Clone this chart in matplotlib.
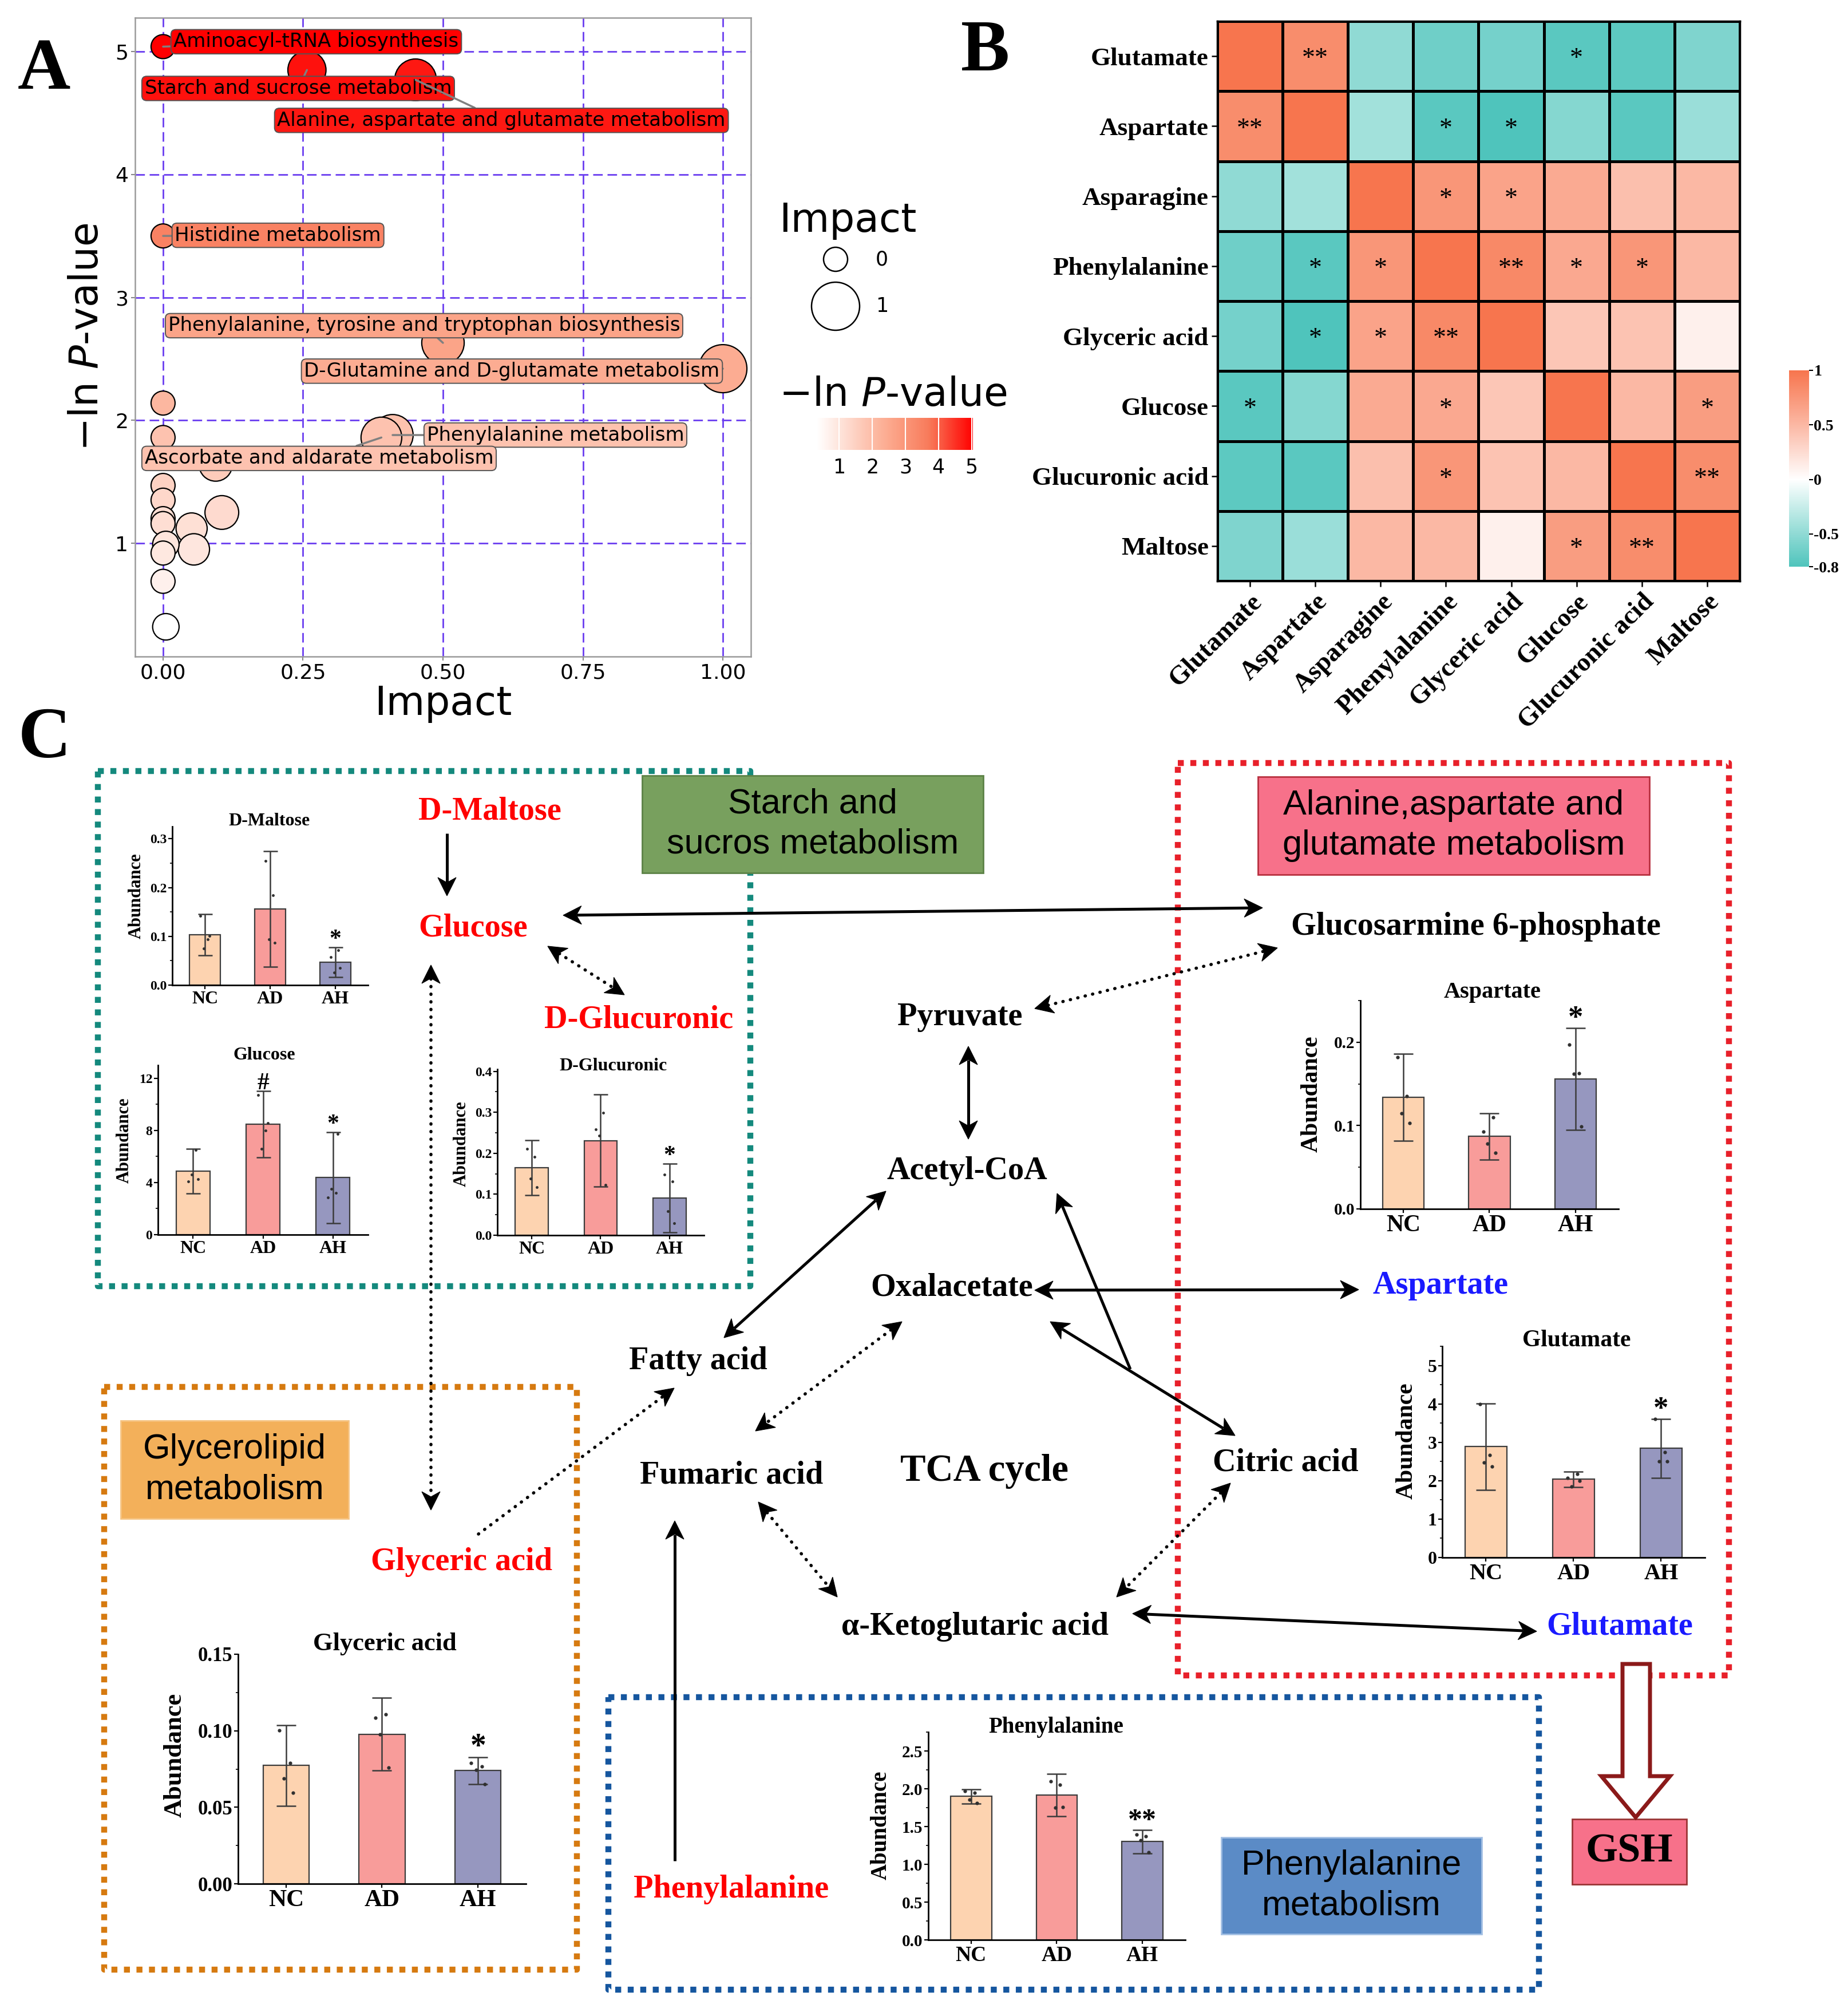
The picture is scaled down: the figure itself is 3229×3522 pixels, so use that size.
import numpy as np
import matplotlib
matplotlib.use("Agg")
import matplotlib.pyplot as plt
from matplotlib.colors import LinearSegmentedColormap, Normalize
from matplotlib.patches import Rectangle, Polygon
from matplotlib.ticker import AutoMinorLocator
from matplotlib.colorbar import ColorbarBase

plt.rcParams['font.family'] = ['DejaVu Sans']
plt.rcParams['mathtext.fontset'] = 'dejavusans'

W, H = 3230, 3522
SERIF = ['Liberation Serif', 'DejaVu Serif']
SANS = ['Liberation Sans', 'DejaVu Sans']

# ---------------- Panel A data ----------------
pathway_names = ["Aminoacyl-tRNA biosynthesis", "Starch and sucrose metabolism",
                 "Alanine, aspartate and glutamate metabolism", "Histidine metabolism",
                 "Phenylalanine, tyrosine and tryptophan biosynthesis",
                 "D-Glutamine and D-glutamate metabolism", "Phenylalanine metabolism",
                 "Ascorbate and aldarate metabolism",
                 "", "", "", "", "", "", "", "", "", "", "", "", "", ""]
pathway_impact = [0.0, 0.257, 0.451, 0.0, 0.50, 1.0, 0.41, 0.39,
                  0.0, 0.0, 0.094, 0.0, 0.0, 0.0, 0.0, 0.051, 0.105, 0.055, 0.005, 0.0, 0.0, 0.005]
pathway_lnp = [5.04, 4.85, 4.77, 3.50, 2.63, 2.42, 1.88, 1.86,
               2.14, 1.86, 1.64, 1.47, 1.35, 1.20, 1.16, 1.12, 1.25, 0.95, 0.99, 0.92, 0.69, 0.32]
impact_ticks = [0.0, 0.25, 0.5, 0.75, 1.0]
impact_ticklabels = ["0.00", "0.25", "0.50", "0.75", "1.00"]
lnp_ticks = [1, 2, 3, 4, 5]
label_xy = [(0.019, 5.08), (-0.033, 4.70), (0.204, 4.44), (0.021, 3.505),
            (0.009, 2.77), (0.252, 2.40), (0.471, 1.88), (-0.033, 1.69)]

# ---------------- Panel B data ----------------
met_names = ["Glutamate", "Aspartate", "Asparagine", "Phenylalanine",
             "Glyceric acid", "Glucose", "Glucuronic acid", "Maltose"]
corr = [[1.00, 0.82, -0.50, -0.65, -0.62, -0.75, -0.73, -0.58],
        [0.82, 1.00, -0.42, -0.75, -0.82, -0.55, -0.75, -0.45],
        [-0.50, -0.42, 1.00, 0.75, 0.65, 0.60, 0.45, 0.50],
        [-0.65, -0.75, 0.75, 1.00, 0.85, 0.62, 0.75, 0.50],
        [-0.62, -0.82, 0.65, 0.85, 1.00, 0.40, 0.42, 0.10],
        [-0.75, -0.55, 0.60, 0.62, 0.40, 1.00, 0.50, 0.70],
        [-0.73, -0.75, 0.45, 0.75, 0.42, 0.50, 1.00, 0.82],
        [-0.58, -0.45, 0.50, 0.50, 0.10, 0.70, 0.82, 1.00]]
corr_sig = [["", "**", "", "", "", "*", "", ""],
            ["**", "", "", "*", "*", "", "", ""],
            ["", "", "", "*", "*", "", "", ""],
            ["", "*", "*", "", "**", "*", "*", ""],
            ["", "*", "*", "**", "", "", "", ""],
            ["*", "", "", "*", "", "", "", "*"],
            ["", "", "", "*", "", "", "", "**"],
            ["", "", "", "", "", "*", "**", ""]]
corr_ticks = [1, 0.5, 0, -0.5, -0.8]
corr_ticklabels = ["1", "0.5", "0", "-0.5", "-0.8"]

# ---------------- Panel C bar data ----------------
groups = ["NC", "AD", "AH"]
group_colors = ["#FDD3B0", "#F89C9A", "#9697BF"]

maltose_mean = [0.103, 0.156, 0.047]
maltose_sd = [0.042, 0.119, 0.031]
maltose_pts = [[0.142, 0.094, 0.075, 0.101], [0.255, 0.184, 0.094, 0.087], [0.057, 0.071, 0.026, 0.035]]
maltose_marks = ["", "", "*"]
maltose_ticks = [0.0, 0.1, 0.2, 0.3]
maltose_ticklabels = ["0.0", "0.1", "0.2", "0.3"]

glucose_mean = [4.88, 8.47, 4.38]
glucose_sd = [1.70, 2.55, 3.48]
glucose_pts = [[4.09, 6.48, 4.62, 4.25], [10.7, 8.0, 6.6, 8.55], [2.84, 3.19, 3.5, 7.75]]
glucose_marks = ["", "#", "*"]
glucose_ticks = [0, 4, 8, 12]
glucose_ticklabels = ["0", "4", "8", "12"]

glucuronic_mean = [0.165, 0.231, 0.091]
glucuronic_sd = [0.067, 0.112, 0.084]
glucuronic_pts = [[0.211, 0.192, 0.138, 0.117], [0.259, 0.2985, 0.2436, 0.1226], [0.148, 0.131, 0.059, 0.030]]
glucuronic_marks = ["", "", "*"]
glucuronic_ticks = [0.0, 0.1, 0.2, 0.3, 0.4]
glucuronic_ticklabels = ["0.0", "0.1", "0.2", "0.3", "0.4"]

aspartate_mean = [0.134, 0.087, 0.156]
aspartate_sd = [0.052, 0.028, 0.061]
aspartate_pts = [[0.182, 0.135, 0.115, 0.103], [0.093, 0.110, 0.078, 0.067], [0.197, 0.163, 0.162, 0.099]]
aspartate_marks = ["", "", "*"]
aspartate_ticks = [0.0, 0.1, 0.2]
aspartate_ticklabels = ["0.0", "0.1", "0.2"]

glutamate_mean = [2.886, 2.04, 2.84]
glutamate_sd = [1.13, 0.20, 0.77]
glutamate_pts = [[3.99, 2.67, 2.47, 2.37], [2.07, 2.17, 1.855, 2.0], [3.6, 2.74, 2.51, 2.51]]
glutamate_marks = ["", "", "*"]
glutamate_ticks = [0, 1, 2, 3, 4, 5]
glutamate_ticklabels = ["0", "1", "2", "3", "4", "5"]

glyceric_mean = [0.0773, 0.0978, 0.074]
glyceric_sd = [0.0263, 0.0237, 0.0088]
glyceric_pts = [[0.1003, 0.079, 0.069, 0.0594], [0.1084, 0.1109, 0.0978, 0.076], [0.079, 0.0765, 0.0745, 0.0652]]
glyceric_marks = ["", "", "*"]
glyceric_ticks = [0.0, 0.05, 0.10, 0.15]
glyceric_ticklabels = ["0.00", "0.05", "0.10", "0.15"]

phe_mean = [1.898, 1.917, 1.30]
phe_sd = [0.093, 0.28, 0.155]
phe_pts = [[1.966, 1.944, 1.857, 1.81], [2.10, 2.05, 1.75, 1.76], [1.396, 1.369, 1.315, 1.158]]
phe_marks = ["", "", "**"]
phe_ticks = [0.0, 0.5, 1.0, 1.5, 2.0, 2.5]
phe_ticklabels = ["0.0", "0.5", "1.0", "1.5", "2.0", "2.5"]

JITTER = [-0.07, 0.04, -0.02, 0.07]

# ---------------- figure ----------------
fig = plt.figure(figsize=(W / 100, H / 100), dpi=100)
fig.patch.set_facecolor('white')

def rect(l, t, r, b):
    return [l / W, 1 - b / H, (r - l) / W, (b - t) / H]

ov = fig.add_axes([0, 0, 1, 1])
ov.set_xlim(0, W)
ov.set_ylim(H, 0)
ov.axis('off')

# panel letters
for letter, (lx, ly) in zip("ABC", [(77, 155), (1722, 123), (78, 1323)]):
    ov.text(lx, ly, letter, ha='center', va='baseline', fontsize=92, fontweight='bold', family=SERIF)

# ---------------- Panel A ----------------
cmapA = LinearSegmentedColormap.from_list('wr', [(0, '#ffffff'), (0.45, '#fcab90'),
                                                  (0.72, '#f87a5a'), (1.0, '#ff0000')])
normA = Normalize(vmin=min(pathway_lnp), vmax=max(pathway_lnp))

def bubble_size(imp):
    return 914 + 2743 * np.sqrt(np.asarray(imp, float))

axA = fig.add_axes(rect(236, 31, 1312, 1147))
axA.set_xlim(-0.05, 1.05)
axA.set_ylim(0.078, 5.275)
axA.set_axisbelow(True)
axA.grid(True, color='#6a3df0', lw=2.0, dashes=(6, 3))
colsA = cmapA(normA(pathway_lnp))
axA.scatter(pathway_impact, pathway_lnp, s=bubble_size(pathway_impact), c=colsA,
            edgecolors='black', linewidths=1.6, zorder=3)
for i, name in enumerate(pathway_names):
    if not name:
        continue
    tx, ty = label_xy[i]
    axA.annotate(name, xy=(pathway_impact[i], pathway_lnp[i]), xytext=(tx, ty),
                 ha='left', va='center', fontsize=24.5, zorder=6,
                 bbox=dict(boxstyle='round,pad=0.14,rounding_size=0.25', fc=colsA[i], ec='#555555', lw=1.4),
                 arrowprops=dict(arrowstyle='-', color='#808080', lw=2.5, shrinkA=0, shrinkB=0))
axA.set_xticks(impact_ticks)
axA.set_xticklabels(impact_ticklabels, fontsize=26)
axA.set_yticks(lnp_ticks)
axA.set_yticklabels([str(v) for v in lnp_ticks], fontsize=26)
axA.tick_params(length=5, width=1.5, color='#888888')
for s in axA.spines.values():
    s.set_color('#9a9a9a')
    s.set_linewidth(1.8)
axA.set_xlabel('Impact', fontsize=50, labelpad=2)
axA.set_ylabel(r'$-$ln $P$-value', fontsize=50, labelpad=12)

# Panel A legend (size + colour)
ov.text(1481, 405, 'Impact', ha='center', va='baseline', fontsize=50)
ov.scatter([1460, 1460], [453, 535], s=bubble_size([0, 1]), facecolors='none', edgecolors='black', linewidths=1.8)
ov.text(1541, 453, '0', ha='center', va='center', fontsize=25)
ov.text(1541, 535, '1', ha='center', va='center', fontsize=25)
ov.text(1560, 709, r'$-$ln $P$-value', ha='center', va='baseline', fontsize=50)
caxA = fig.add_axes(rect(1427, 730, 1700, 786))
cbA = ColorbarBase(caxA, cmap=cmapA, norm=normA, orientation='horizontal')
cbA.outline.set_visible(False)
cbA.set_ticks(lnp_ticks)
cbA.set_ticklabels([str(v) for v in lnp_ticks])
caxA.tick_params(direction='in', length=40, width=1.5, color='white', labelsize=25, pad=10)

# ---------------- Panel B ----------------
cmapB = LinearSegmentedColormap.from_list('tc', [(0, '#4fc4bc'), (0.222, '#a6e2dd'), (0.444, '#ffffff'),
                                                 (0.722, '#fbb8a4'), (1.0, '#f7754e')])
normB = Normalize(vmin=-0.8, vmax=1.0)
axB = fig.add_axes(rect(2127, 37, 3040, 1015))
n = len(met_names)
axB.pcolormesh(np.arange(n + 1), np.arange(n + 1), np.array(corr), cmap=cmapB, norm=normB,
               edgecolors='black', linewidth=2.5)
axB.set_xlim(0, n)
axB.set_ylim(n, 0)
for i in range(n):
    for j in range(n):
        if corr_sig[i][j]:
            axB.text(j + 0.5, i + 0.55, corr_sig[i][j], ha='center', va='center',
                     fontsize=33, family=SERIF)
axB.set_xticks(np.arange(n) + 0.5)
axB.set_xticklabels(met_names, rotation=45, ha='right', va='top', rotation_mode='anchor',
                    fontsize=33, fontweight='bold', family=SERIF)
axB.set_yticks(np.arange(n) + 0.5)
axB.set_yticklabels(met_names, fontsize=32.5, fontweight='bold', family=SERIF)
axB.tick_params(length=7, width=1.8, pad=4)
for s in axB.spines.values():
    s.set_linewidth(2.5)
caxB = fig.add_axes(rect(3126, 647, 3161, 990))
cbB = ColorbarBase(caxB, cmap=cmapB, norm=normB, orientation='vertical')
cbB.outline.set_visible(False)
cbB.set_ticks(corr_ticks)
cbB.set_ticklabels(corr_ticklabels)
caxB.tick_params(length=5, width=1.5, pad=1)
for t in caxB.get_yticklabels():
    t.set_fontfamily(SERIF)
    t.set_fontweight('bold')
    t.set_fontsize(20)

# ---------------- Panel C : frames & boxes ----------------
def dotted_frame(l, t, r, b, color, lw=7.5):
    ov.plot([l, r, r, l, l], [t, t, b, b, t], color=color, lw=lw, dashes=(1, 1.1),
            dash_capstyle='butt', solid_joinstyle='miter', zorder=1)

dotted_frame(171, 1347, 1311, 2247, '#14897d')
dotted_frame(2058, 1333, 3021, 2927, '#e8202a')
dotted_frame(182, 2423, 1008, 3441, '#d67a10')
dotted_frame(1063, 2965, 2689, 3476, '#15569f')

def label_box(l, t, r, b, fc, ec, text, fs=44, family=SANS, weight='normal'):
    ov.add_patch(Rectangle((l, t), r - l, b - t, fc=fc, ec=ec, lw=2, zorder=2))
    ov.text((l + r) / 2, (t + b) / 2, text, ha='center', va='center', fontsize=fs, family=family,
            fontweight=weight, linespacing=1.3, zorder=3)

label_box(1122, 1355, 1718, 1525, '#78a05e', '#5c8246', 'Starch and\nsucros metabolism')
label_box(2198, 1357, 2882, 1528, '#f7718a', '#b8303f', 'Alanine,aspartate and\nglutamate metabolism')
label_box(211, 2482, 609, 2653, '#f3b05a', '#f6c27f', 'Glycerolipid\nmetabolism')
label_box(2134, 3210, 2589, 3379, '#5b8bc6', '#a3c0e4', 'Phenylalanine\nmetabolism')
label_box(2747, 3178, 2947, 3292, '#f7718a', '#9a3535', 'GSH', fs=52, family=SERIF, weight='bold')

# hollow arrow to GSH
ov.add_patch(Polygon([(2835, 2907), (2883, 2907), (2883, 3103), (2918, 3103), (2858, 3175),
                      (2798, 3103), (2835, 3103)], closed=True, fc='white', ec='#8b1a1a', lw=5,
                     joinstyle='miter', zorder=4))

# metabolite names
metab_labels = [
    ("D-Maltose", 856, 1432, 'red'), ("Glucose", 827, 1635, 'red'), ("D-Glucuronic", 1116, 1795, 'red'),
    ("Glucosarmine 6-phosphate", 2579, 1633, 'black'), ("Pyruvate", 1677, 1791, 'black'),
    ("Acetyl-CoA", 1690, 2060, 'black'), ("Oxalacetate", 1663, 2263, 'black'),
    ("Fatty acid", 1220, 2392, 'black'), ("Fumaric acid", 1278, 2591, 'black'),
    ("\u03b1-Ketoglutaric acid", 1704, 2856, 'black'), ("Citric acid", 2246, 2570, 'black'),
    ("Aspartate", 2517, 2260, '#1a1aff'), ("Glutamate", 2830, 2856, '#1a1aff'),
    ("Glyceric acid", 807, 2743, 'red'), ("Phenylalanine", 1278, 3315, 'red')]
for txt, x, y, c in metab_labels:
    ov.text(x, y, txt, ha='center', va='baseline', fontsize=40.5, fontweight='bold', family=SERIF,
            color=c, zorder=3)
ov.text(1720, 2587, "TCA cycle", ha='center', va='baseline', fontsize=48, fontweight='bold',
        family=SERIF, zorder=3)

# arrows
def head(tip, d, hl=32, hw=16):
    nrm = np.array([-d[1], d[0]])
    pts = [tip, tip - d * hl + nrm * hw, tip - d * hl * 0.72, tip - d * hl - nrm * hw]
    ov.add_patch(Polygon(pts, closed=True, fc='black', ec='black', lw=0.8, zorder=3))

def arrow(p0, p1, heads='end', dotted=False):
    p0 = np.array(p0, float)
    p1 = np.array(p1, float)
    d = (p1 - p0) / np.linalg.norm(p1 - p0)
    a = p0 + d * 24 if heads == 'both' else p0
    b = p1 - d * 24
    if dotted:
        ov.plot([a[0], b[0]], [a[1], b[1]], color='black', lw=4.0, dashes=(0.1, 2.3),
                dash_capstyle='round', zorder=3)
    else:
        ov.plot([a[0], b[0]], [a[1], b[1]], color='black', lw=3.6, solid_capstyle='butt', zorder=3)
    head(p1, d)
    if heads == 'both':
        head(p0, -d)

arrow((781, 1456), (781, 1565))
arrow((984, 1599), (2206, 1586), 'both')
arrow((957, 1653), (1091, 1738), 'both', True)
arrow((753, 1686), (753, 2638), 'both', True)
arrow((1808, 1762), (2232, 1656), 'both', True)
arrow((1692, 1828), (1692, 1990), 'both')
arrow((1548, 2081), (1265, 2337), 'both')
arrow((836, 2680), (1178, 2425), 'end', True)
arrow((1576, 2309), (1320, 2500), 'both', True)
arrow((1808, 2254), (2374, 2253), 'both')
arrow((1835, 2309), (2158, 2508), 'both')
arrow((1975, 2392), (1847, 2085))
arrow((1325, 2624), (1463, 2790), 'both', True)
arrow((2150, 2591), (1951, 2790), 'both', True)
arrow((1979, 2819), (2685, 2850), 'both')
arrow((1179, 3251), (1179, 2657))

# ---------------- Panel C : bar insets ----------------
def bar_inset(spec, means, sds, pts, marks, yticks, yticklabels, title):
    l, r, b, t = spec['box']
    ax = fig.add_axes(rect(l, t, r, b))
    ax.patch.set_alpha(0)
    x = np.arange(len(groups))
    ax.bar(x, means, width=0.48, color=group_colors, edgecolor='#3c3c3c', linewidth=1.6, zorder=2)
    ax.errorbar(x, means, yerr=sds, fmt='none', ecolor='#3c3c3c', elinewidth=1.8,
                capsize=spec['cap'], capthick=1.8, zorder=3)
    for i, vals in enumerate(pts):
        ax.plot(i + np.array(JITTER[:len(vals)]), vals, 'o', ms=spec['ms'], color='#303030',
                mec='none', zorder=4)
    ax.set_xlim(-0.5, 2.5)
    ax.set_ylim(*spec['ylim'])
    ax.set_xticks(x)
    ax.set_xticklabels(groups, family=SERIF, fontweight='bold', fontsize=spec['fx'])
    ax.set_yticks(yticks)
    ax.set_yticklabels(yticklabels, family=SERIF, fontweight='bold', fontsize=spec['ft'])
    ax.yaxis.set_minor_locator(AutoMinorLocator(2))
    for s in ('top', 'right'):
        ax.spines[s].set_visible(False)
    for s in ('left', 'bottom'):
        ax.spines[s].set_linewidth(2.0)
    ax.tick_params(axis='both', which='major', length=5, width=1.6, pad=2)
    ax.tick_params(axis='y', which='minor', length=3, width=1.2)

    def frac(px, py):
        return (px - l) / (r - l), (b - py) / (b - t)
    tx, ty = frac(*spec['title'])
    ax.text(tx, ty, title, transform=ax.transAxes, ha='center', va='center', family=SERIF,
            fontweight='bold', fontsize=spec['fti'])
    yx, yy = frac(*spec['ylab'])
    ax.text(yx, yy, 'Abundance', transform=ax.transAxes, rotation=90, ha='center', va='center',
            family=SERIF, fontweight='bold', fontsize=spec['fy'])
    for i, m in enumerate(marks):
        if m:
            ax.annotate(m, xy=(i, means[i] + sds[i]), xytext=(0, 2), textcoords='offset points',
                        ha='center', va='baseline', fontsize=spec['fm'], family=SERIF,
                        fontweight='bold', annotation_clip=False)
    return ax

small = dict(cap=9, ms=3.5, fx=23, ft=17, fti=23, fy=22, fm=30)
bar_inset(dict(small, box=(301, 643, 1721, 1444), ylim=(0, 0.325), title=(471, 1435), ylab=(238, 1565)),
          maltose_mean, maltose_sd, maltose_pts, maltose_marks, maltose_ticks, maltose_ticklabels, 'D-Maltose')
bar_inset(dict(small, box=(276, 643, 2157, 1861), ylim=(0, 13), title=(462, 1844), ylab=(217, 1992)),
          glucose_mean, glucose_sd, glucose_pts, glucose_marks, glucose_ticks, glucose_ticklabels, 'Glucose')
bar_inset(dict(small, box=(869, 1230, 2158, 1868), ylim=(0, 0.405), title=(1072, 1862), ylab=(806, 1998)),
          glucuronic_mean, glucuronic_sd, glucuronic_pts, glucuronic_marks, glucuronic_ticks,
          glucuronic_ticklabels, 'D-Glucuronic')
bar_inset(dict(box=(2377, 2828, 2112, 1748), ylim=(0, 0.25), title=(2608, 1733), ylab=(2292, 1911),
               cap=12, ms=4.5, fx=30, ft=21, fti=29, fy=30, fm=38),
          aspartate_mean, aspartate_sd, aspartate_pts, aspartate_marks, aspartate_ticks,
          aspartate_ticklabels, 'Aspartate')
bar_inset(dict(box=(2520, 2979, 2721, 2352), ylim=(0, 5.5), title=(2755, 2342), ylab=(2458, 2517),
               cap=12, ms=4.5, fx=29, ft=23, fti=30, fy=30, fm=38),
          glutamate_mean, glutamate_sd, glutamate_pts, glutamate_marks, glutamate_ticks,
          glutamate_ticklabels, 'Glutamate')
bar_inset(dict(box=(416, 919, 3291, 2890), ylim=(0, 0.15), title=(672, 2872), ylab=(306, 3066),
               cap=12, ms=4.5, fx=31, ft=25, fti=32, fy=32, fm=40),
          glyceric_mean, glyceric_sd, glyceric_pts, glyceric_marks, glyceric_ticks,
          glyceric_ticklabels, 'Glyceric acid')
bar_inset(dict(box=(1622, 2071, 3389, 3026), ylim=(0, 2.75), title=(1845, 3018), ylab=(1539, 3189),
               cap=12, ms=4.5, fx=27, ft=21, fti=28, fy=28, fm=36),
          phe_mean, phe_sd, phe_pts, phe_marks, phe_ticks, phe_ticklabels, 'Phenylalanine')

fig.savefig('out.png', dpi=100)
